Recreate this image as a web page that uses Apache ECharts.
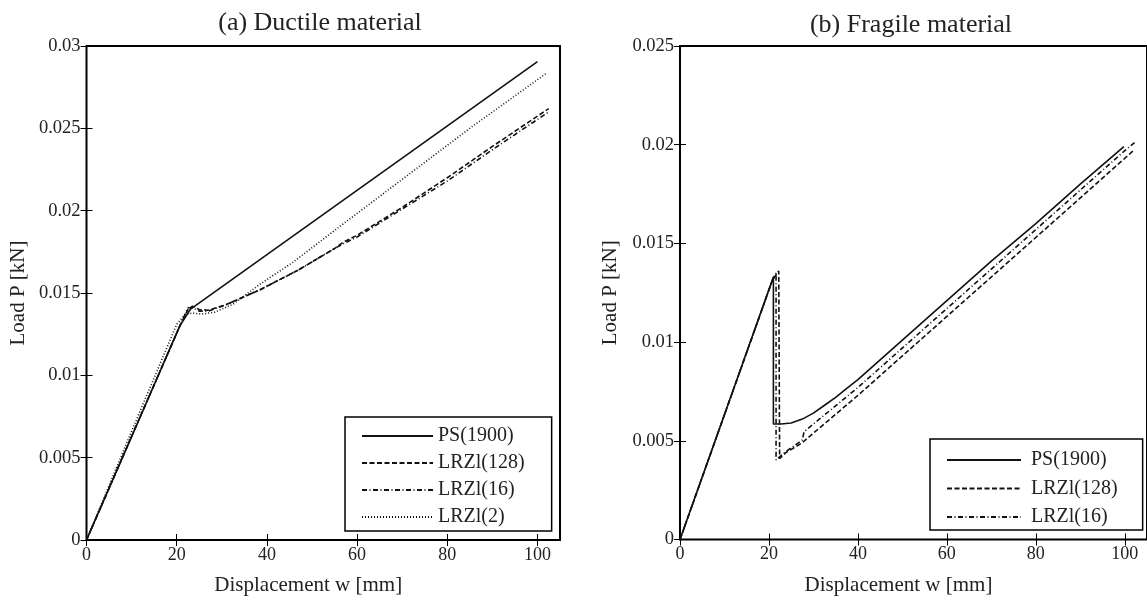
<!DOCTYPE html>
<html>
<head>
<meta charset="utf-8"/>
<title>Load - displacement</title>
<script src="https://cdn.jsdelivr.net/npm/echarts@6/dist/echarts.min.js"></script>
</head>
<body style="margin:0;background:#fff;">
<div id="main" style="width:1147px;height:601px;"></div>
<script type="text/javascript">
// tick values
var xTicks = [0, 20, 40, 60, 80, 100];
var yTicksA = [0, 0.005, 0.01, 0.015, 0.02, 0.025, 0.03];
var yTicksB = [0, 0.005, 0.01, 0.015, 0.02, 0.025];
var names = ['PS(1900)', 'LRZl(128)', 'LRZl(16)', 'LRZl(2)'];

// (a) ductile material
var aPsX = [0, 20.7, 23, 100];
var aPsY = [0, 0.0130, 0.0140, 0.02905];
var a128X = [0, 20.7, 22.5, 23.5, 25, 27, 31, 38.5, 47, 55, 57, 60, 70, 80, 90, 102.5];
var a128Y = [0, 0.0130, 0.0140, 0.0142, 0.0140, 0.01395, 0.0143, 0.0152, 0.0164, 0.0177, 0.0181, 0.0185, 0.0202, 0.0220, 0.0239, 0.0262];
var a16X = [0, 20.7, 22.5, 23.5, 25, 27, 31, 38.5, 47, 55, 57, 60, 70, 80, 90, 102.5];
var a16Y = [0, 0.0130, 0.0141, 0.0141, 0.0139, 0.0139, 0.0143, 0.0152, 0.0164, 0.0177, 0.0180, 0.0184, 0.0201, 0.0218, 0.0237, 0.0260];
var a2X = [0, 10, 20, 21.9, 23.5, 25.6, 28.5, 32.5, 38.5, 45.8, 55.5, 70, 85, 102];
var a2Y = [0, 0.0066, 0.0131, 0.0137, 0.01378, 0.01372, 0.01384, 0.01432, 0.01554, 0.01687, 0.0189, 0.0219, 0.0250, 0.02835];

// (b) fragile material
var bPsX = [0, 21.0, 21.0, 22.7, 25, 27.5, 30, 32.5, 35, 37.5, 40, 45, 50, 55, 60, 70, 80, 90, 99.8];
var bPsY = [0, 0.0133, 0.00585, 0.00585, 0.0059, 0.0061, 0.0064, 0.0068, 0.0072, 0.00765, 0.0081, 0.0091, 0.0101, 0.0111, 0.0121, 0.0141, 0.0160, 0.0180, 0.0199];
var b128X = [0, 20.8, 22.2, 22.4, 23.8, 27.5, 28.5, 40, 60, 80, 102.2];
var b128Y = [0, 0.01315, 0.0136, 0.0041, 0.0044, 0.0049, 0.0051, 0.0073, 0.0113, 0.0153, 0.01975];
var b16X = [0, 20.8, 21.6, 21.6, 23.8, 27.5, 27.9, 40, 60, 80, 100, 102.2];
var b16Y = [0, 0.01315, 0.0135, 0.00403, 0.00445, 0.00504, 0.00546, 0.0077, 0.0117, 0.0157, 0.0197, 0.0201];

var serif = 'Liberation Serif, Times New Roman, serif';
var dashTypes = ['solid', [5, 2.5], [5, 2.5, 1, 2.5], [1, 2]];

function zip(xs, ys) {
    var out = [];
    for (var i = 0; i < xs.length; i++) out.push([xs[i], ys[i]]);
    return out;
}

function xAx(gi, pos, withText) {
    return {
        type: 'value', gridIndex: gi, position: pos, min: 0, max: 105, interval: 20,
        axisLine: {show: false}, splitLine: {show: false},
        axisTick: {show: true, inside: true, length: 6, customValues: xTicks, lineStyle: {color: '#000', width: 1}},
        axisLabel: {show: withText, customValues: xTicks, margin: 6, color: '#222', fontFamily: serif, fontSize: 18,
            formatter: function (v) { return v % 20 === 0 ? String(v) : ''; }},
        name: withText ? 'Displacement w [mm]' : '', nameLocation: 'middle', nameGap: 35,
        nameTextStyle: {color: '#222', fontFamily: serif, fontSize: 21, padding: [0, 30, 0, 0]}
    };
}

function yAx(gi, pos, max, ticks, withText, gap) {
    return {
        type: 'value', gridIndex: gi, position: pos, min: 0, max: max, interval: 0.005,
        axisLine: {show: false}, splitLine: {show: false},
        axisTick: {show: true, inside: true, length: 6, customValues: ticks, lineStyle: {color: '#000', width: 1}},
        axisLabel: {show: withText, customValues: ticks, margin: 6, color: '#222', fontFamily: serif, fontSize: 18.5},
        name: withText ? 'Load P [kN]' : '', nameLocation: 'middle', nameGap: gap,
        nameTextStyle: {color: '#222', fontFamily: serif, fontSize: 21}
    };
}

function line(name, k, xi, data) {
    return {
        name: name, type: 'line', xAxisIndex: xi, yAxisIndex: xi, data: data,
        symbol: 'none', showSymbol: false, animation: false, z: 3,
        itemStyle: {color: '#111'},
        lineStyle: {color: '#111', width: 1.6, type: dashTypes[k], cap: 'butt'}
    };
}

function legendAt(left, top, list, w, gap, pad, textPad) {
    return {
        data: list, orient: 'vertical', left: left, top: top, selectedMode: false,
        itemWidth: w, itemHeight: 12, itemGap: gap, padding: pad,
        itemStyle: {opacity: 0},
        backgroundColor: '#fff', borderColor: '#000', borderWidth: 1.5, z: 10,
        textStyle: {color: '#222', fontFamily: serif, fontSize: 20, lineHeight: 20, padding: [0, 0, 0, textPad]}
    };
}

var myChart = echarts.init(document.getElementById('main'));
var option = {
    backgroundColor: '#fff',
    animation: false,
    title: [
        {text: '(a) Ductile material', left: 320, top: 10, textAlign: 'center', padding: 0,
            textStyle: {color: '#222', fontFamily: serif, fontSize: 26, fontWeight: 'normal'}},
        {text: '(b) Fragile material', left: 911, top: 12, textAlign: 'center', padding: 0,
            textStyle: {color: '#222', fontFamily: serif, fontSize: 26, fontWeight: 'normal'}}
    ],
    legend: [
        legendAt(345, 417, names, 71, 7, [9, 27, 4, 16], 0),
        legendAt(930, 439, names.slice(0, 3), 74, 8.5, [11, 25, 3, 16], 5)
    ],
    grid: [
        {left: 86.5, top: 46, width: 473.5, height: 495.7, show: true, borderColor: '#000', borderWidth: 2, backgroundColor: 'transparent'},
        {left: 680, top: 46, width: 471.5, height: 493.5, show: true, borderColor: '#000', borderWidth: 2, backgroundColor: 'transparent'}
    ],
    xAxis: [xAx(0, 'bottom', true), xAx(0, 'top', false), xAx(1, 'bottom', true), xAx(1, 'top', false)],
    yAxis: [
        yAx(0, 'left', 0.03, yTicksA, true, 58), yAx(0, 'right', 0.03, yTicksA, false, 0),
        yAx(1, 'left', 0.025, yTicksB, true, 59), yAx(1, 'right', 0.025, yTicksB, false, 0)
    ],
    series: [
        line(names[0], 0, 0, zip(aPsX, aPsY)),
        line(names[1], 1, 0, zip(a128X, a128Y)),
        line(names[2], 2, 0, zip(a16X, a16Y)),
        line(names[3], 3, 0, zip(a2X, a2Y)),
        line(names[0], 0, 2, zip(bPsX, bPsY)),
        line(names[1], 1, 2, zip(b128X, b128Y)),
        line(names[2], 2, 2, zip(b16X, b16Y))
    ]
};
myChart.setOption(option);
</script>
</body>
</html>
